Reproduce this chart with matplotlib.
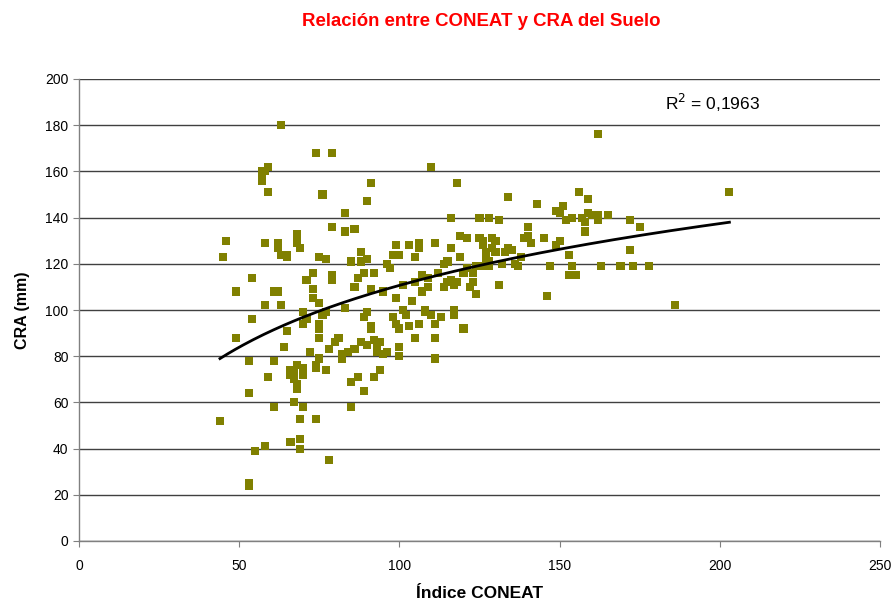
import numpy as np
import matplotlib
matplotlib.use("Agg")
import matplotlib.pyplot as plt

plt.rcParams['font.family'] = ['Liberation Sans', 'DejaVu Sans']

points = [
    (44, 52), (45, 123), (46, 130), (49, 108), (49, 88), (53, 78), (53, 64), (53, 25), (53, 24),
    (54, 96), (54, 114), (55, 39), (57, 160), (57, 156), (57, 158), (58, 160), (58, 129), (58, 102),
    (58, 41), (59, 162), (59, 151), (59, 71), (61, 108), (61, 78), (61, 58), (62, 129), (62, 127),
    (62, 108), (63, 180), (63, 124), (63, 102), (64, 84), (65, 124), (65, 123), (65, 91), (66, 43),
    (66, 72), (66, 74), (67, 70), (67, 60), (67, 73), (68, 76), (68, 68), (68, 66), (68, 129),
    (68, 133), (68, 131), (69, 127), (69, 44), (69, 40), (69, 53), (70, 99), (70, 94), (70, 72),
    (70, 75), (70, 58), (71, 113), (71, 96), (72, 82), (73, 109), (73, 105), (73, 116), (74, 168),
    (74, 76), (74, 75), (74, 53), (75, 123), (75, 103), (75, 94), (75, 92), (75, 88), (75, 79),
    (76, 150), (76, 98), (77, 122), (77, 74), (77, 99), (78, 35), (78, 83), (79, 168), (79, 136),
    (79, 115), (79, 113), (80, 86), (81, 88), (82, 79), (82, 81), (83, 134), (83, 142), (83, 101),
    (84, 82), (85, 121), (85, 58), (85, 69), (86, 135), (86, 83), (86, 110), (87, 114), (87, 71),
    (88, 125), (88, 121), (88, 86), (89, 65), (89, 116), (89, 97), (90, 147), (90, 122), (90, 85),
    (90, 99), (91, 155), (91, 109), (91, 93), (91, 92), (92, 116), (92, 87), (92, 71), (93, 84),
    (93, 82), (94, 74), (94, 86), (95, 81), (95, 108), (96, 120), (96, 82), (97, 118), (98, 124),
    (98, 97), (99, 94), (99, 128), (99, 105), (100, 84), (100, 80), (100, 92), (100, 124),
    (101, 111), (101, 100), (102, 98), (103, 128), (103, 93), (104, 104), (105, 112), (105, 88),
    (105, 123), (106, 129), (106, 127), (106, 94), (107, 115), (107, 108), (108, 100), (108, 99),
    (109, 110), (109, 114), (110, 162), (110, 98), (111, 129), (111, 88), (111, 79), (111, 94),
    (112, 116), (113, 97), (114, 110), (114, 120), (115, 121), (115, 112), (116, 113), (116, 127),
    (116, 140), (117, 111), (117, 98), (117, 100), (118, 155), (118, 112), (119, 132), (119, 123),
    (120, 116), (120, 92), (121, 131), (121, 118), (122, 110), (123, 116), (123, 112), (124, 107),
    (124, 119), (125, 131), (125, 140), (126, 130), (126, 128), (126, 119), (127, 125), (127, 122),
    (128, 119), (128, 121), (128, 140), (129, 127), (129, 131), (130, 130), (130, 125), (131, 139),
    (131, 111), (132, 120), (133, 125), (134, 149), (134, 127), (135, 126), (136, 120), (137, 119),
    (138, 123), (139, 131), (140, 136), (140, 132), (141, 129), (143, 146), (145, 131), (146, 106),
    (147, 119), (149, 143), (149, 128), (150, 130), (150, 142), (151, 145), (152, 139), (153, 115),
    (153, 124), (154, 140), (154, 119), (155, 115), (156, 151), (157, 140), (158, 138), (158, 134),
    (159, 142), (159, 148), (160, 141), (162, 139), (162, 176), (162, 141), (163, 119), (165, 141),
    (169, 119), (172, 139), (172, 126), (173, 119), (175, 136), (178, 119), (186, 102), (203, 151),
]
coneat = [p[0] for p in points]
cra = [p[1] for p in points]

# logarithmic trend line: y = a*ln(x) + b
trend_a = 38.6
trend_b = -67.1
trend_x_range = (44, 203)
r2_text = "R$^2$ = 0,1963"

x_ticks = [0, 50, 100, 150, 200, 250]
y_ticks = [0, 20, 40, 60, 80, 100, 120, 140, 160, 180, 200]

fig = plt.figure(figsize=(8.96, 6.03), dpi=100)
ax = fig.add_axes([79/896, 62/603, (880-79)/896, (541-79)/603])

ax.set_xlim(0, 250)
ax.set_ylim(0, 200)
ax.set_xticks(x_ticks)
ax.set_yticks(y_ticks)
ax.yaxis.grid(True, color='#404040', linewidth=1.0)
ax.set_axisbelow(True)
for s in ['top', 'right']:
    ax.spines[s].set_visible(False)
for s in ['left', 'bottom']:
    ax.spines[s].set_color('#808080')
    ax.spines[s].set_linewidth(1.0)
ax.tick_params(axis='both', direction='out', length=4, color='#808080', labelsize=10, labelcolor='black')
ax.tick_params(axis='x', pad=9)

ax.scatter(coneat, cra, marker='s', s=34, color='#808000', edgecolors='none', zorder=3)

tx = np.linspace(trend_x_range[0], trend_x_range[1], 200)
ax.plot(tx, trend_a * np.log(tx) + trend_b, color='black', linewidth=2, zorder=4)

ax.text(183, 189.5, r2_text, fontsize=12.5, ha='left', va='center')

ax.set_xlabel('Índice CONEAT', fontsize=12.5, fontweight='bold', labelpad=9)
ax.set_ylabel('CRA (mm)', fontsize=11.5, fontweight='bold', labelpad=11)

fig.text(481/896, 1 - 22/603, 'Relación entre CONEAT y CRA del Suelo', color='#ff0000',
         fontsize=13.4, fontweight='bold', ha='center', va='center')

fig.savefig('out.png', dpi=100)
